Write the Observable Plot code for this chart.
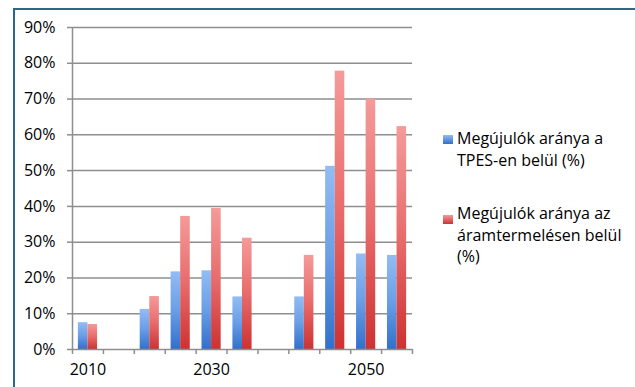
<!DOCTYPE html>
<html><head><meta charset="utf-8">
<script src="https://cdn.jsdelivr.net/npm/d3@7"></script>
<script src="https://cdn.jsdelivr.net/npm/@observablehq/plot@0.6"></script>
<style>
body{margin:0;background:#fff;}
#wrap{position:relative;width:635px;height:387px;overflow:hidden;font-family:"Open Sans",sans-serif;}
#frame{position:absolute;left:13px;top:8px;width:640px;height:400px;border-top:2px solid #2e6784;border-left:2px solid #2e6784;box-sizing:border-box;}
#wrap svg{position:absolute;left:0;top:0;}
.leg{position:absolute;left:457px;font-size:16px;line-height:21.5px;color:#000;white-space:nowrap;}
.sw{position:absolute;left:443px;width:10px;height:9px;}
</style></head>
<body><div id="wrap"><div id="frame"></div></div>
<script>
// Category slots along the x axis (empty strings are unlabeled slots)
const slotLabels = ["2010", "", "", "", "2030", "", "", "", "", "2050", ""];
// Series names
const seriesNames = ["Megújulók aránya a TPES-en belül (%)", "Megújulók aránya az áramtermelésen belül (%)"];
// Series values (%), null = no bar in that slot
const tpes = [7.5, null, 11.2, 21.7, 22.0, 14.7, null, 14.7, 51.2, 26.7, 26.3];
const aram = [7.0, null, 14.8, 37.2, 39.4, 31.1, null, 26.3, 77.8, 70.0, 62.3];
// Y tick values
const yTicks = [0, 10, 20, 30, 40, 50, 60, 70, 80, 90];

const slots = slotLabels.map((l, i) => i);
const blueData = slots.filter(i => tpes[i] != null).map(i => ({slot: i, value: tpes[i]}));
const redData = slots.filter(i => aram[i] != null).map(i => ({slot: i, value: aram[i]}));
const labelTicks = slots.filter(i => slotLabels[i] !== "").map(i => i + 0.5);

const grid = "#8e8e8e";
const chart = Plot.plot({
  width: 635, height: 387,
  marginLeft: 72, marginRight: 223, marginTop: 27, marginBottom: 38,
  style: {fontFamily: "'Open Sans', sans-serif", fontSize: "16px", color: "#000", background: "transparent", overflow: "visible"},
  x: {domain: [0, slotLabels.length], axis: null, label: null},
  y: {domain: [0, 90], axis: null, label: null},
  marks: [
    Plot.ruleY(yTicks.slice(1), {stroke: grid, strokeWidth: 1.5}),
    Plot.rectY(blueData, {x1: d => d.slot + 0.19, x2: d => d.slot + 0.5, y: "value", fill: "url(#gBlue)"}),
    Plot.rectY(redData, {x1: d => d.slot + 0.5, x2: d => d.slot + 0.81, y: "value", fill: "url(#gRed)"}),
    Plot.ruleX([0], {stroke: grid, strokeWidth: 1.5}),
    Plot.ruleY([0], {stroke: grid, strokeWidth: 1.5}),
    Plot.axisY({ticks: yTicks, label: null, tickSize: 5, tickPadding: 12, tickFormat: d => d + "%", stroke: grid, fill: "#000", strokeWidth: 1.5, fontSize: 16}),
    Plot.axisX({ticks: d3.range(slotLabels.length + 1), label: null, tickSize: 5, tickFormat: () => "", stroke: grid, strokeWidth: 1.5}),
    Plot.axisX({ticks: labelTicks, label: null, tickSize: 0, tickPadding: 14, tickFormat: t => slotLabels[Math.floor(t)], fill: "#000", fontSize: 16})
  ]
});

d3.select(chart).insert("defs", ":first-child").html(
  `<linearGradient id="gBlue" x1="0" y1="0" x2="0" y2="1">
     <stop offset="0" stop-color="#93bcf3"/><stop offset="0.5" stop-color="#6a9ee6"/><stop offset="1" stop-color="#3170cb"/></linearGradient>
   <linearGradient id="gRed" x1="0" y1="0" x2="0" y2="1">
     <stop offset="0" stop-color="#f59a9a"/><stop offset="0.5" stop-color="#e86c6c"/><stop offset="1" stop-color="#cd3232"/></linearGradient>`
);

const wrap = document.getElementById("wrap");
wrap.appendChild(chart);

const legendLines = [
  ["Megújulók aránya a", "TPES-en belül (%)"],
  ["Megújulók aránya az", "áramtermelésen belül", "(%)"]
];
const legendTop = [128, 203];
const swTop = [135, 215];
const swFill = ["linear-gradient(#93bcf3,#3170cb)", "linear-gradient(#f59a9a,#cd3232)"];
legendLines.forEach((lines, k) => {
  const sw = document.createElement("div");
  sw.className = "sw"; sw.style.top = swTop[k] + "px"; sw.style.background = swFill[k];
  sw.title = seriesNames[k];
  wrap.appendChild(sw);
  const t = document.createElement("div");
  t.className = "leg"; t.style.top = legendTop[k] + "px";
  t.innerHTML = lines.join("<br>");
  wrap.appendChild(t);
});
</script>
</body></html>
